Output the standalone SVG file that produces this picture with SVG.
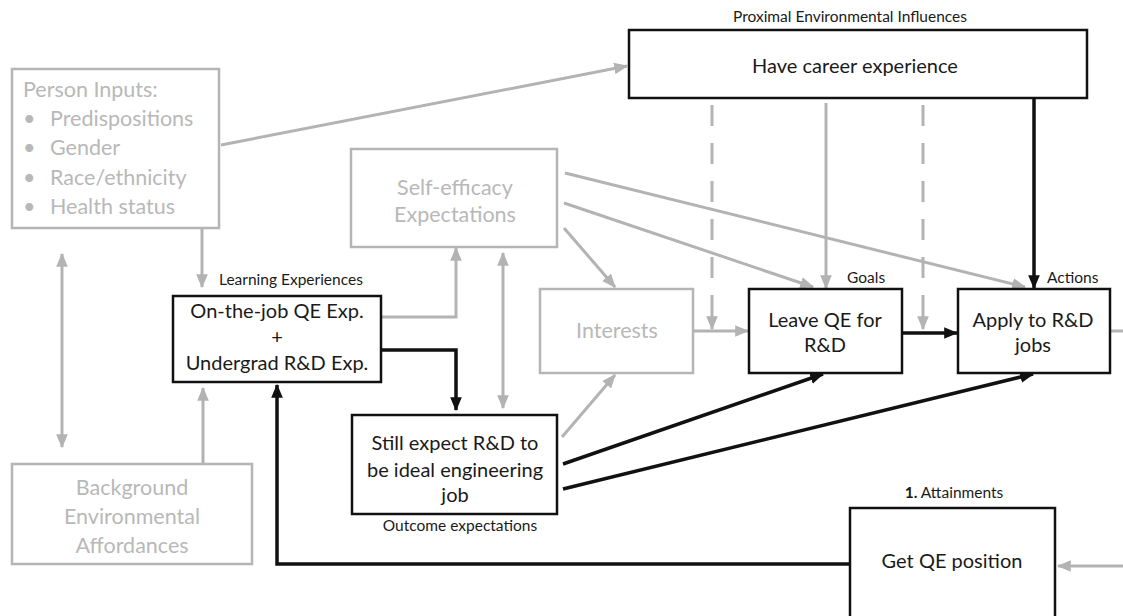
<svg xmlns="http://www.w3.org/2000/svg" width="1123" height="616" viewBox="0 0 1123 616">
  <style>
    .box-g { fill: #fff; stroke: #b5b5b5; stroke-width: 2.5; }
    .box-k { fill: #fff; stroke: #111; stroke-width: 2.5; }
    .t { font-family: Lato, "Open Sans", "Liberation Sans", sans-serif; }
    .tg { fill: #b8b8b8; font-size: 21.5px; }
    .tk { fill: #1a1a1a; font-size: 20px; }
    .lab { fill: #1a1a1a; font-size: 15.5px; }
    .cg { fill: none; stroke: #b3b3b3; stroke-width: 3; }
    .ck { fill: none; stroke: #111; stroke-width: 3.5; }
    .dash { stroke-dasharray: 21 17; }
  </style>
  <defs>
    <marker id="ag" viewBox="0 0 12 10" refX="11" refY="5" markerWidth="14" markerHeight="12" markerUnits="userSpaceOnUse" orient="auto-start-reverse">
      <path d="M0,0 L12,5 L0,10 z" fill="#b3b3b3"/>
    </marker>
    <marker id="ak" viewBox="0 0 12 10" refX="11" refY="5" markerWidth="14" markerHeight="12" markerUnits="userSpaceOnUse" orient="auto">
      <path d="M0,0 L12,5 L0,10 z" fill="#111"/>
    </marker>
  </defs>

  <rect width="1123" height="616" fill="#fff"/>

  <!-- connectors -->
  <g id="connectors">
    <!-- grey paths -->
    <line class="cg" x1="221" y1="145" x2="627" y2="66" marker-end="url(#ag)"/>
    <line class="cg" x1="202" y1="229" x2="202" y2="287" marker-end="url(#ag)"/>
    <line class="cg" x1="62" y1="254" x2="62" y2="447" marker-start="url(#ag)" marker-end="url(#ag)"/>
    <line class="cg" x1="203" y1="463" x2="203" y2="388" marker-end="url(#ag)"/>
    <polyline class="cg" points="382,317 456,317 456,248" marker-end="url(#ag)"/>
    <line class="cg" x1="503" y1="253" x2="503" y2="408" marker-start="url(#ag)" marker-end="url(#ag)"/>
    <line class="cg" x1="565" y1="173" x2="1025" y2="287" marker-end="url(#ag)"/>
    <line class="cg" x1="564" y1="203" x2="813" y2="287" marker-end="url(#ag)"/>
    <line class="cg" x1="564" y1="228" x2="615" y2="287" marker-end="url(#ag)"/>
    <line class="cg" x1="562" y1="437" x2="615" y2="375" marker-end="url(#ag)"/>
    <line class="cg" x1="694" y1="331" x2="748" y2="331" marker-end="url(#ag)"/>
    <line class="cg" x1="826" y1="103" x2="826" y2="288" marker-end="url(#ag)"/>
    <line class="cg dash" x1="712" y1="105" x2="712" y2="312"/>
    <line class="cg" x1="712" y1="312" x2="712" y2="329" marker-end="url(#ag)"/>
    <line class="cg dash" x1="923" y1="105" x2="923" y2="312"/>
    <line class="cg" x1="923" y1="312" x2="923" y2="329" marker-end="url(#ag)"/>
    <line class="cg" x1="1111" y1="331" x2="1123" y2="331"/>
    <line class="cg" x1="1123" y1="566" x2="1058" y2="566" marker-end="url(#ag)"/>

    <!-- black paths -->
    <polyline class="ck" points="382,350 456,350 456,410" marker-end="url(#ak)"/>
    <line class="ck" x1="1034" y1="98" x2="1034" y2="288" marker-end="url(#ak)"/>
    <line class="ck" x1="903" y1="333" x2="957" y2="333" marker-end="url(#ak)"/>
    <line class="ck" x1="563" y1="464" x2="823" y2="374" marker-end="url(#ak)"/>
    <line class="ck" x1="563" y1="489" x2="1033" y2="374" marker-end="url(#ak)"/>
    <polyline class="ck" points="850,564 277,564 277,385" marker-end="url(#ak)"/>
  </g>

  <!-- nodes -->
  <g id="person-inputs">
    <rect class="box-g" x="12" y="69" width="207" height="159"/>
    <text class="t tg" x="23" y="97">Person Inputs:</text>
    <g class="t tg">
      <text x="23" y="126">•</text><text x="50" y="126">Predispositions</text>
      <text x="23" y="155">•</text><text x="50" y="155">Gender</text>
      <text x="23" y="185">•</text><text x="50" y="185">Race/ethnicity</text>
      <text x="23" y="214">•</text><text x="50" y="214">Health status</text>
    </g>
  </g>

  <g id="career-experience">
    <text class="t lab" x="850" y="22" text-anchor="middle">Proximal Environmental Influences</text>
    <rect class="box-k" x="629" y="30" width="458" height="68"/>
    <text class="t tk" x="855" y="73" font-size="21.5" text-anchor="middle">Have career experience</text>
  </g>

  <g id="self-efficacy">
    <rect class="box-g" x="351" y="149" width="206" height="98"/>
    <text class="t tg" x="455" y="195" text-anchor="middle">Self-efficacy</text>
    <text class="t tg" x="455" y="222" text-anchor="middle">Expectations</text>
  </g>

  <g id="learning-experiences">
    <text class="t lab" x="219" y="285">Learning Experiences</text>
    <rect class="box-k" x="173" y="296" width="208" height="86"/>
    <text class="t tk" x="277" y="318" text-anchor="middle">On-the-job QE Exp.</text>
    <text class="t tk" x="277" y="344" text-anchor="middle">+</text>
    <text class="t tk" x="277" y="370" text-anchor="middle">Undergrad R&amp;D Exp.</text>
  </g>

  <g id="background">
    <rect class="box-g" x="12" y="464" width="240" height="100"/>
    <text class="t tg" x="132" y="495" text-anchor="middle">Background</text>
    <text class="t tg" x="132" y="524" text-anchor="middle">Environmental</text>
    <text class="t tg" x="132" y="553" text-anchor="middle">Affordances</text>
  </g>

  <g id="interests">
    <rect class="box-g" x="540" y="289" width="153" height="84"/>
    <text class="t tg" x="617" y="338" text-anchor="middle">Interests</text>
  </g>

  <g id="outcome-expectations">
    <rect class="box-k" x="352" y="415" width="205" height="99"/>
    <text class="t tk" x="455" y="450" text-anchor="middle">Still expect R&amp;D to</text>
    <text class="t tk" x="455" y="477" text-anchor="middle">be ideal engineering</text>
    <text class="t tk" x="455" y="502" text-anchor="middle">job</text>
    <text class="t lab" x="460" y="531" text-anchor="middle">Outcome expectations</text>
  </g>

  <g id="goals">
    <text class="t lab" x="847" y="283">Goals</text>
    <rect class="box-k" x="749" y="289" width="153" height="84"/>
    <text class="t tk" x="825" y="327" text-anchor="middle">Leave QE for</text>
    <text class="t tk" x="825" y="352" text-anchor="middle">R&amp;D</text>
  </g>

  <g id="actions">
    <text class="t lab" x="1047" y="283">Actions</text>
    <rect class="box-k" x="958" y="289" width="152" height="84"/>
    <text class="t tk" x="1033" y="327" text-anchor="middle">Apply to R&amp;D</text>
    <text class="t tk" x="1033" y="352" text-anchor="middle">jobs</text>
  </g>

  <g id="attainments">
    <text class="t lab" x="954" y="498" text-anchor="middle"><tspan font-weight="bold">1.</tspan> Attainments</text>
    <rect class="box-k" x="850" y="508" width="205" height="120"/>
    <text class="t tk" x="952" y="568" font-size="21" text-anchor="middle">Get QE position</text>
  </g>
</svg>
